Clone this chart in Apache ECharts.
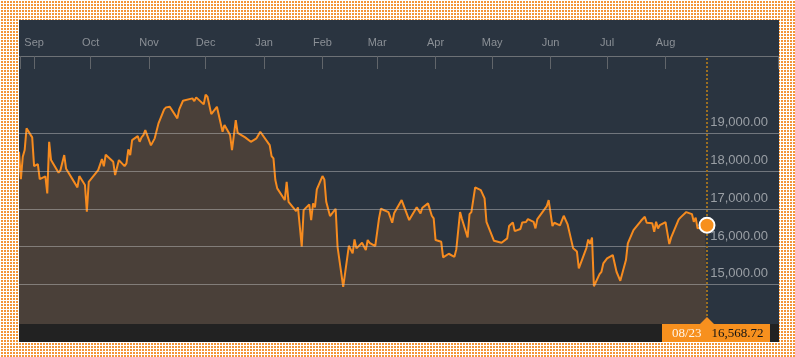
<!DOCTYPE html>
<html><head><meta charset="utf-8">
<script src="https://cdn.jsdelivr.net/npm/echarts@6/dist/echarts.min.js"></script>
<style>
html,body{margin:0;padding:0;width:795px;height:357px;overflow:hidden}
body{background-color:#f39538;background-image:linear-gradient(to right,#fff 1px,transparent 1px),linear-gradient(to bottom,#fff 1px,transparent 1px);background-size:3px 3px}
#chart{position:absolute;left:19px;top:20px;width:760px;height:322px;background:#2a3440}
</style></head>
<body><div id="chart"></div>
<script>
const dates = [
'2015-08-24','2015-08-25','2015-08-26','2015-08-27','2015-08-28','2015-08-31',
'2015-09-01','2015-09-02','2015-09-03','2015-09-04','2015-09-07','2015-09-08','2015-09-09','2015-09-10','2015-09-11',
'2015-09-14','2015-09-15','2015-09-17','2015-09-18','2015-09-24','2015-09-25','2015-09-28','2015-09-29','2015-09-30',
'2015-10-01','2015-10-05','2015-10-07','2015-10-08','2015-10-09','2015-10-13','2015-10-14','2015-10-16','2015-10-19',
'2015-10-20','2015-10-21','2015-10-22','2015-10-23','2015-10-26','2015-10-27','2015-10-28','2015-10-29','2015-10-30',
'2015-11-02','2015-11-04','2015-11-06','2015-11-09','2015-11-10','2015-11-12','2015-11-16','2015-11-17','2015-11-18',
'2015-11-19','2015-11-20','2015-11-24','2015-11-25','2015-11-26','2015-11-30',
'2015-12-01','2015-12-02','2015-12-03','2015-12-04','2015-12-07','2015-12-10','2015-12-11','2015-12-14','2015-12-15',
'2015-12-17','2015-12-18','2015-12-22','2015-12-25','2015-12-28','2015-12-30',
'2016-01-04','2016-01-05','2016-01-06','2016-01-07','2016-01-08','2016-01-12','2016-01-13','2016-01-14','2016-01-18',
'2016-01-19','2016-01-21','2016-01-22','2016-01-25','2016-01-26','2016-01-27','2016-01-28','2016-01-29',
'2016-02-01','2016-02-02','2016-02-03','2016-02-05','2016-02-08','2016-02-09','2016-02-12','2016-02-15','2016-02-16',
'2016-02-17','2016-02-18','2016-02-19','2016-02-22','2016-02-24','2016-02-25','2016-02-26','2016-02-29',
'2016-03-01','2016-03-02','2016-03-03','2016-03-07','2016-03-09','2016-03-10','2016-03-14','2016-03-16','2016-03-17',
'2016-03-18','2016-03-22','2016-03-24','2016-03-25','2016-03-28','2016-03-29','2016-03-30','2016-03-31',
'2016-04-01','2016-04-04','2016-04-05','2016-04-06','2016-04-08','2016-04-11','2016-04-12','2016-04-14','2016-04-15',
'2016-04-18','2016-04-19','2016-04-20','2016-04-22','2016-04-25','2016-04-27','2016-04-28',
'2016-05-02','2016-05-06','2016-05-09','2016-05-10','2016-05-12','2016-05-13','2016-05-16','2016-05-17','2016-05-19',
'2016-05-20','2016-05-23','2016-05-24','2016-05-25','2016-05-26','2016-05-30','2016-05-31',
'2016-06-02','2016-06-03','2016-06-06','2016-06-08','2016-06-10','2016-06-13','2016-06-15','2016-06-16','2016-06-20',
'2016-06-21','2016-06-22','2016-06-23','2016-06-24','2016-06-27','2016-06-28','2016-06-29','2016-06-30',
'2016-07-01','2016-07-04','2016-07-06','2016-07-08','2016-07-11','2016-07-12','2016-07-15','2016-07-19','2016-07-20',
'2016-07-21','2016-07-22','2016-07-25','2016-07-26','2016-07-27','2016-07-28','2016-07-29',
'2016-08-01','2016-08-03','2016-08-04','2016-08-05','2016-08-08','2016-08-09','2016-08-12','2016-08-15','2016-08-16',
'2016-08-17','2016-08-18','2016-08-19','2016-08-22','2016-08-23'
];
const values = [
18513,17789,18380,18558,19132,18894,
18134,18089,18187,17789,17860,17410,18777,18293,18248,
17956,18028,18425,18062,17570,17869,17630,16923,17718,
17744,18028,18319,18126,18433,18248,17895,18293,18134,
18205,18576,18425,18823,18928,18777,18894,18955,19087,
18682,18868,19265,19636,19689,19705,19397,19636,19620,
19864,19909,19927,19856,19954,19768,
20023,19970,19954,19511,19705,19042,19220,18955,18558,
19352,19016,18894,18777,18868,19042,
18690,18399,18338,17763,17543,17233,17718,17188,16942,
17040,15996,16968,17119,16703,17146,17040,17517,
17869,17781,17188,16809,17003,15996,14936,16022,16041,
15821,16192,15954,16102,15909,16174,16102,16015,
16060,16748,17003,16915,16632,16881,17233,16968,16942,
16703,17040,16881,17029,17146,17127,16817,16748,
16174,16128,15715,15705,15811,15731,15927,16915,16730,
16245,16862,16915,17570,17498,17278,16658,
16155,16102,16219,16544,16642,16412,16465,16642,16650,
16730,16658,16483,16730,16775,17074,17233,
16544,16632,16563,16817,16597,15954,15869,15424,15962,
16187,16073,16240,14950,15273,15334,15556,15556,
15689,15776,15334,15095,15644,16086,16438,16685,16703,
16791,16632,16616,16393,16658,16483,16571,
16650,16068,16245,16287,16722,16775,16915,16862,16658,
16764,16483,16526,16540,16568.72
];
const monthTicks = ['2015-09-01','2015-10-01','2015-11-01','2015-12-01','2016-01-01','2016-02-01','2016-03-01','2016-04-01','2016-05-01','2016-06-01','2016-07-01','2016-08-01'];
const monthLabels = ['Sep','Oct','Nov','Dec','Jan','Feb','Mar','Apr','May','Jun','Jul','Aug'];
const yGridValues = [15000,16000,17000,18000,19000];
const lastDateLabel = '08/23';

function ts(s){const p=s.split('-');return Date.UTC(+p[0],+p[1]-1,+p[2]);}
const DAY = 86400000;
const xMin = ts('2015-08-24');
const xMax = xMin + 403.2*DAY;
const seriesData = dates.map((d,i)=>[ts(d), values[i]]);
const last = seriesData[seriesData.length-1];
const tickTs = monthTicks.map(ts);
const fmt = v => v.toLocaleString('en-US',{minimumFractionDigits:2,maximumFractionDigits:2});
const SANS = '"Liberation Sans", Arial, Helvetica, sans-serif';
const SERIF = '"Liberation Serif", "Times New Roman", serif';

const chart = echarts.init(document.getElementById('chart'), null, {renderer:'canvas'});
const option = {
  animation:false,
  backgroundColor:'transparent',
  grid:{left:0,right:0,top:36,bottom:18},
  xAxis:{
    type:'value', position:'top', min:xMin, max:xMax, scale:true,
    axisLine:{show:true,lineStyle:{color:'#6d7176',width:1}},
    axisTick:{show:true,inside:true,length:13,customValues:[xMin+0.4*DAY].concat(tickTs,[xMax-0.6*DAY]),lineStyle:{color:'#61656a',width:1}},
    axisLabel:{customValues:tickTs,margin:8,color:'#8b9096',fontSize:11,fontFamily:SANS,showMinLabel:true,showMaxLabel:true,
      formatter:function(v){let best=0,bd=Infinity;tickTs.forEach((t,i)=>{const d=Math.abs(t-v);if(d<bd){bd=d;best=i;}});return monthLabels[best];}},
    splitLine:{show:false}
  },
  yAxis:{type:'value',min:13950,max:21050,show:false,splitLine:{show:false}},
  series:[
    {type:'line',data:seriesData,symbol:'none',silent:true,z:1,lineStyle:{width:0,opacity:0},areaStyle:{color:'#4a4039',opacity:1}},
    {type:'line',data:seriesData,symbol:'none',silent:true,z:2,lineStyle:{width:0,opacity:0},
      markLine:{silent:true,symbol:['none','none'],animation:false,
        data:yGridValues.map(v=>({yAxis:v,lineStyle:{color:'rgba(200,200,200,0.45)',width:1,type:'solid'},
          label:{show:true,position:'insideEndTop',formatter:fmt(v),color:'#9a9fa5',fontSize:13,fontFamily:SANS,distance:[11,4]}}))
          .concat([{xAxis:last[0],lineStyle:{color:'#9c6f20',width:2,type:[2,2]},label:{show:false}}])
      }},
    {type:'line',data:seriesData,symbol:'none',silent:true,z:3,lineStyle:{color:'#f68b1f',width:2}},
    {type:'scatter',data:[last],symbol:'circle',symbolSize:15,silent:true,z:20,zlevel:1,itemStyle:{color:'#f7901e',borderColor:'#ffffff',borderWidth:2,opacity:1}}
  ]
};
chart.setOption(option);
const px = chart.convertToPixel({xAxisIndex:0}, last[0]);
const W = chart.getWidth(), H = chart.getHeight();
const by = H - 18;
chart.setOption({graphic:[
  {type:'rect',silent:true,z:10,shape:{x:0,y:by,width:W,height:18},style:{fill:'#222222'}},
  {type:'polygon',silent:true,z:11,shape:{points:[[px-7.5,by+0.5],[px,by-7],[px+7.5,by+0.5]]},style:{fill:'#f7901e'}},
  {type:'rect',silent:true,z:11,shape:{x:px-45,y:by,width:108,height:18},style:{fill:'#f7901e'}},
  {type:'text',silent:true,z:12,x:px-35,y:by+9.5,style:{text:lastDateLabel,fill:'#fff4e6',font:'13px '+SERIF,verticalAlign:'middle'}},
  {type:'text',silent:true,z:12,x:px+4.5,y:by+9.5,style:{text:fmt(last[1]),fill:'#141414',font:'13px '+SERIF,verticalAlign:'middle'}}
]});
</script></body></html>
